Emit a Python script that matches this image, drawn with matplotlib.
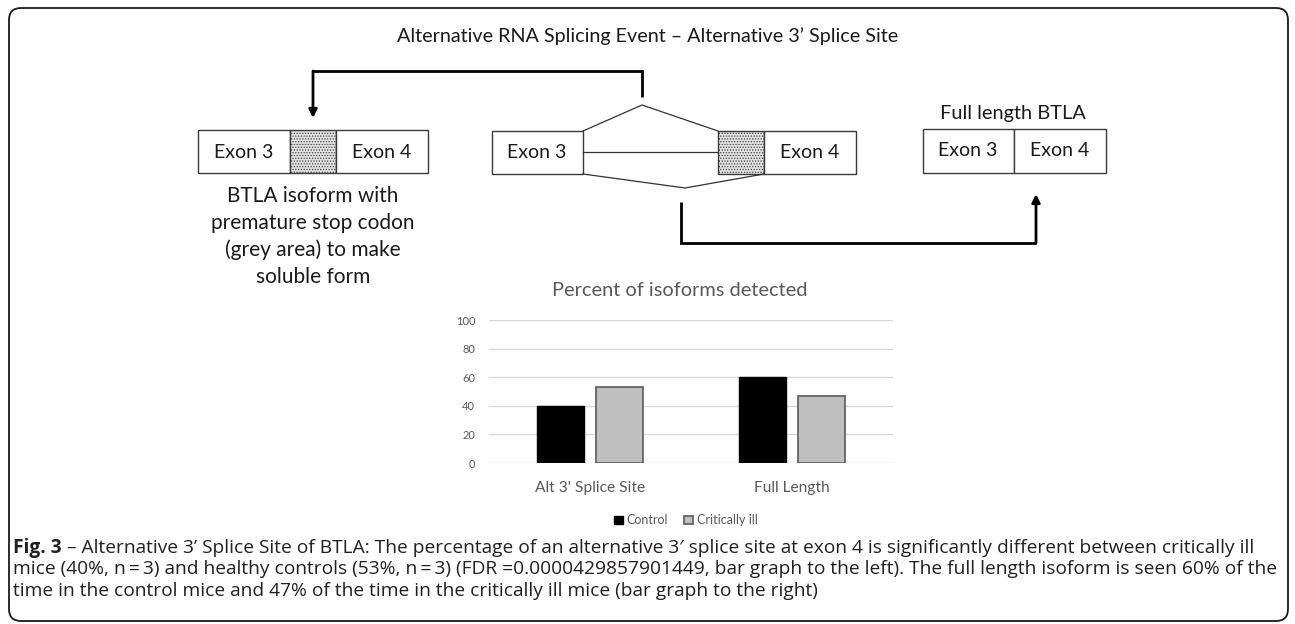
import matplotlib
matplotlib.use("Agg")
import matplotlib.pyplot as plt
from matplotlib.patches import Rectangle, FancyBboxPatch
import numpy as np

# ---------------- data ----------------
categories = ["Alt 3' Splice Site", "Full Length"]
control = [40, 60]
critically_ill = [53, 47]
series_names = ["Control", "Critically ill"]
y_ticks = [0, 20, 40, 60, 80, 100]

title_text = "Alternative RNA Splicing Event \u2013 Alternative 3\u2019 Splice Site"
chart_title = "Percent of isoforms detected"
left_note = ["BTLA isoform with", "premature stop codon", "(grey area) to make", "soluble form"]
full_label = "Full length BTLA"
caption_bold = "Fig. 3"
caption_lines = [
    " \u2013 Alternative 3\u2019 Splice Site of BTLA: The percentage of an alternative 3\u2032 splice site at exon 4 is significantly different between critically ill",
    "mice (40%, n\u2009=\u20093) and healthy controls (53%, n\u2009=\u20093) (FDR =0.0000429857901449, bar graph to the left). The full length isoform is seen 60% of the",
    "time in the control mice and 47% of the time in the critically ill mice (bar graph to the right)",
]

W, H = 1295, 624
fig = plt.figure(figsize=(W / 100, H / 100), dpi=100)
ax = fig.add_axes([0, 0, 1, 1])
ax.set_xlim(0, W)
ax.set_ylim(H, 0)
ax.axis("off")

FONT = ["Lato", "DejaVu Sans"]
CAPF = ["Open Sans", "DejaVu Sans"]
TXT = "#1a1a1a"

plt.rcParams["hatch.color"] = "#8a8a8a"
plt.rcParams["hatch.linewidth"] = 0.6

# outer frame
frame = FancyBboxPatch((9, 8), 1279, 613, boxstyle="round,pad=0,rounding_size=12",
                       fc="none", ec="#1a1a1a", lw=1.3)
ax.add_patch(frame)

ax.text(648, 36, title_text, ha="center", va="center", fontsize=14.2, family=FONT, color=TXT)

BOX_EC = "#3a3a3a"

def box(x0, x1, y0, y1, hatch=False):
    if hatch:
        r = Rectangle((x0, y0), x1 - x0, y1 - y0, fc="#e4e4e4", ec=BOX_EC, lw=1.0, hatch="......")
    else:
        r = Rectangle((x0, y0), x1 - x0, y1 - y0, fc="white", ec=BOX_EC, lw=1.0)
    ax.add_patch(r)

# left isoform
box(198, 290, 130, 173)
box(290, 336, 130, 173, hatch=True)
box(336, 428, 130, 173)
ax.text(244, 152, "Exon 3", ha="center", va="center", fontsize=14, family=FONT, color=TXT)
ax.text(382, 152, "Exon 4", ha="center", va="center", fontsize=14, family=FONT, color=TXT)
for i, ln in enumerate(left_note):
    ax.text(313, 196 + i * 27, ln, ha="center", va="center", fontsize=15, family=FONT, color=TXT)

# middle pre-mRNA
box(492, 583, 131, 174)
box(718, 764, 131, 174, hatch=True)
box(764, 856, 131, 174)
ax.text(537, 153, "Exon 3", ha="center", va="center", fontsize=14, family=FONT, color=TXT)
ax.text(810, 153, "Exon 4", ha="center", va="center", fontsize=14, family=FONT, color=TXT)
ax.plot([583, 642, 718], [131, 105, 131], color="#333333", lw=0.9)
ax.plot([583, 718], [152, 152], color="#333333", lw=0.9)
ax.plot([583, 685, 764], [174, 188, 174], color="#333333", lw=0.9)

# right full length
box(923, 1014, 129, 173)
box(1014, 1106, 129, 173)
ax.text(968, 151, "Exon 3", ha="center", va="center", fontsize=14, family=FONT, color=TXT)
ax.text(1060, 151, "Exon 4", ha="center", va="center", fontsize=14, family=FONT, color=TXT)
ax.text(1013, 114, full_label, ha="center", va="center", fontsize=14.4, family=FONT, color=TXT)

# brackets with arrows
ax.plot([642, 642, 313], [97, 71, 71], color="black", lw=2, solid_capstyle="butt", solid_joinstyle="miter")
ax.annotate("", xy=(313, 118), xytext=(313, 71),
            arrowprops=dict(arrowstyle="-|>", lw=2, color="black", mutation_scale=12, shrinkA=0, shrinkB=0))
ax.plot([681, 681, 1036], [202, 243, 243], color="black", lw=2, solid_capstyle="butt", solid_joinstyle="miter")
ax.annotate("", xy=(1036, 194), xytext=(1036, 243),
            arrowprops=dict(arrowstyle="-|>", lw=2, color="black", mutation_scale=12, shrinkA=0, shrinkB=0))

# ---------------- bar chart ----------------
GREY_TXT = "#595959"
bx = fig.add_axes([489 / W, 1 - 463 / H, 404 / W, 143 / H])
x = np.arange(len(categories))
bw = 0.228
off = 0.146
bx.bar(x - off, control, bw, color="black", edgecolor="black", lw=1, zorder=3, label=series_names[0])
bx.bar(x + off, critically_ill, bw, color="#bfbfbf", edgecolor="#595959", lw=1.2, zorder=3, label=series_names[1])
bx.set_xlim(-0.5, 1.5)
bx.set_ylim(0, 100)
bx.set_yticks(y_ticks)
bx.yaxis.grid(True, color="#d9d9d9", lw=1)
bx.set_axisbelow(True)
for s in bx.spines.values():
    s.set_visible(False)
bx.tick_params(axis="both", length=0, colors=GREY_TXT)
bx.tick_params(axis="y", labelsize=8, pad=10)
bx.set_yticklabels([str(t) for t in y_ticks], family=FONT)
bx.set_xticks(x)
bx.set_xticklabels(categories, fontsize=11.2, family=FONT, color=GREY_TXT)
bx.tick_params(axis="x", pad=13)
bx.patch.set_alpha(0)

ax.text(680, 290, chart_title, ha="center", va="center", fontsize=14.4, family=FONT, color=GREY_TXT)

# legend
leg = bx.legend(loc="upper center", bbox_to_anchor=((686 - 489) / 404, -0.28), ncol=2, frameon=False,
                prop={"family": FONT, "size": 9}, handlelength=0.7, handleheight=0.7, handletextpad=0.3,
                columnspacing=1.3, labelcolor=GREY_TXT)

# caption: size so that the first line spans x = 13 .. 1247
fig.canvas.draw()
r = fig.canvas.get_renderer()
probe_b = ax.text(0, 0, caption_bold, fontsize=12, family=CAPF, weight="bold")
probe_r = ax.text(0, 0, caption_lines[0], fontsize=12, family=CAPF)
wprobe = probe_b.get_window_extent(r).width + probe_r.get_window_extent(r).width
probe_b.remove()
probe_r.remove()
cap_size = 12 * (1247 - 13) / wprobe

x0 = 13
ys = [548, 569, 591]
tb = ax.text(x0, ys[0], caption_bold, ha="left", va="center", fontsize=cap_size, family=CAPF,
             weight="bold", color="#231f20")
bb = tb.get_window_extent(r)
ax.text(x0 + bb.width, ys[0], caption_lines[0], ha="left", va="center", fontsize=cap_size, family=CAPF, color="#231f20")
for i in (1, 2):
    ax.text(x0, ys[i], caption_lines[i], ha="left", va="center", fontsize=cap_size, family=CAPF, color="#231f20")

fig.savefig("out.png", dpi=100)
